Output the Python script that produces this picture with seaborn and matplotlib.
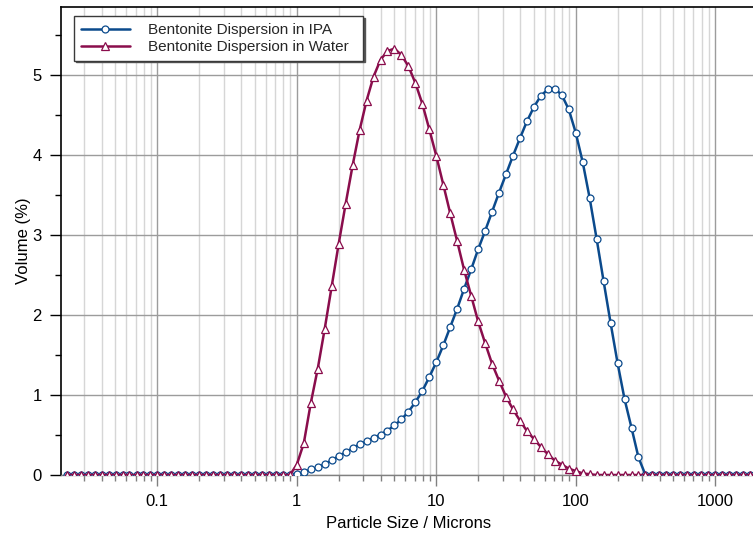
import numpy as np
import pandas as pd
import matplotlib
matplotlib.use("Agg")
import matplotlib.pyplot as plt
import matplotlib.ticker as mticker
import seaborn as sns

# Particle size classes (microns), standard laser-diffraction grid
sizes = [
    0.0224, 0.0252, 0.0283, 0.0317, 0.0356, 0.0399, 0.0448, 0.0502, 0.0564, 0.0632,
    0.0710, 0.0796, 0.0893, 0.1002, 0.1125, 0.1262, 0.1416, 0.1589, 0.1783, 0.2000,
    0.2244, 0.2518, 0.2825, 0.3170, 0.3557, 0.3991, 0.4477, 0.5024, 0.5637, 0.6325,
    0.7096, 0.7962, 0.8934, 1.002, 1.125, 1.262, 1.416, 1.589, 1.783, 2.000,
    2.244, 2.518, 2.825, 3.170, 3.557, 3.991, 4.477, 5.024, 5.637, 6.325,
    7.096, 7.962, 8.934, 10.02, 11.25, 12.62, 14.16, 15.89, 17.83, 20.00,
    22.44, 25.18, 28.25, 31.70, 35.57, 39.91, 44.77, 50.24, 56.37, 63.25,
    70.96, 79.62, 89.34, 100.2, 112.5, 126.2, 141.6, 158.9, 178.3, 200.0,
    224.4, 251.8, 282.5, 317.0, 355.7, 399.1, 447.7, 502.4, 563.7, 632.5,
    709.6, 796.2, 893.4, 1002.0, 1125.0, 1262.0, 1416.0, 1589.0, 1783.0, 2000.0,
]

volume_ipa = [
    0, 0, 0, 0, 0, 0, 0, 0, 0, 0,
    0, 0, 0, 0, 0, 0, 0, 0, 0, 0,
    0, 0, 0, 0, 0, 0, 0, 0, 0, 0,
    0, 0, 0, 0.01, 0.035, 0.07, 0.095, 0.135, 0.185, 0.235,
    0.285, 0.335, 0.385, 0.42, 0.465, 0.505, 0.555, 0.62, 0.695, 0.79,
    0.91, 1.05, 1.225, 1.41, 1.62, 1.85, 2.08, 2.33, 2.57, 2.82,
    3.05, 3.29, 3.53, 3.76, 3.99, 4.21, 4.42, 4.60, 4.74, 4.82,
    4.83, 4.75, 4.57, 4.28, 3.91, 3.46, 2.95, 2.42, 1.90, 1.40,
    0.95, 0.59, 0.22, 0, 0, 0, 0, 0, 0, 0,
    0, 0, 0, 0, 0, 0, 0, 0, 0, 0,
]

volume_water = [
    0, 0, 0, 0, 0, 0, 0, 0, 0, 0,
    0, 0, 0, 0, 0, 0, 0, 0, 0, 0,
    0, 0, 0, 0, 0, 0, 0, 0, 0, 0,
    0, 0, 0, 0.13, 0.40, 0.90, 1.33, 1.83, 2.36, 2.89,
    3.39, 3.87, 4.31, 4.68, 4.98, 5.19, 5.30, 5.33, 5.25, 5.11,
    4.90, 4.64, 4.32, 3.99, 3.63, 3.27, 2.92, 2.56, 2.24, 1.92,
    1.65, 1.39, 1.18, 0.98, 0.82, 0.68, 0.55, 0.45, 0.35, 0.26,
    0.18, 0.13, 0.08, 0.05, 0.02, 0.01, 0, 0, 0, 0,
    0, 0, 0, 0, 0, 0, 0, 0, 0, 0,
    0, 0, 0, 0, 0, 0, 0, 0, 0, 0,
]

series_labels = ["Bentonite Dispersion in IPA", "Bentonite Dispersion in Water"]
series_colors = ["#0b4a8c", "#8a0d4c"]
x_tick_values = [0.1, 1, 10, 100, 1000]
y_tick_values = [0, 1, 2, 3, 4, 5]

sns.set_theme(style="white")
plt.rcParams["font.family"] = ["Liberation Sans", "DejaVu Sans"]

W, H = 753, 538
fig = plt.figure(figsize=(W / 100, H / 100), dpi=100)
ax_l, ax_r, ax_t, ax_b = 61, 757, 7, 475
ax = fig.add_axes([ax_l / W, 1 - ax_b / H, (ax_r - ax_l) / W, (ax_b - ax_t) / H])

df = pd.DataFrame({"size": sizes, "ipa": volume_ipa, "water": volume_water})

sns.lineplot(data=df, x="size", y="ipa", ax=ax, color=series_colors[0],
             linewidth=1.8, marker="o", markersize=5.0, markerfacecolor="white",
             markeredgecolor=series_colors[0], markeredgewidth=0.9,
             label=series_labels[0], estimator=None, zorder=3)
sns.lineplot(data=df, x="size", y="water", ax=ax, color=series_colors[1],
             linewidth=1.8, marker="^", markersize=5.6, markerfacecolor="white",
             markeredgecolor=series_colors[1], markeredgewidth=0.9,
             label=series_labels[1], estimator=None, zorder=4)

ax.set_xscale("log")
ax.set_xlim(0.0204, 2000)
ax.set_ylim(0, 5.85)

ax.xaxis.set_major_locator(mticker.FixedLocator(x_tick_values))
ax.xaxis.set_major_formatter(mticker.FuncFormatter(lambda v, _: f"{v:g}"))
ax.xaxis.set_minor_locator(mticker.LogLocator(base=10, subs=np.arange(2, 10), numticks=20))
ax.xaxis.set_minor_formatter(mticker.NullFormatter())
ax.yaxis.set_major_locator(mticker.FixedLocator(y_tick_values))
ax.yaxis.set_minor_locator(mticker.MultipleLocator(0.5))

ax.grid(True, which="major", axis="both", color="#9c9c9c", linewidth=1.0, zorder=0)
ax.grid(True, which="minor", axis="x", color="#d6d6d6", linewidth=1.0, zorder=0)
ax.set_axisbelow(True)

ax.tick_params(axis="x", which="major", direction="out", length=8, width=1,
               color="#808080", labelsize=12, pad=6, bottom=True, labelcolor="black")
ax.tick_params(axis="x", which="minor", direction="out", length=4, width=1,
               color="#808080", bottom=True)
ax.tick_params(axis="y", which="major", direction="out", length=8, width=1,
               color="black", labelsize=12, pad=6, left=True, labelcolor="black")
ax.tick_params(axis="y", which="minor", direction="out", length=4, width=1,
               color="black", left=True)

for side in ["left", "top"]:
    ax.spines[side].set_color("black")
    ax.spines[side].set_linewidth(1.2)
ax.spines["bottom"].set_color("#808080")
ax.spines["bottom"].set_linewidth(1.0)
ax.spines["right"].set_visible(False)

ax.set_xlabel("Particle Size / Microns", fontsize=12, labelpad=5, color="black")
ax.set_ylabel("Volume (%)", fontsize=12, labelpad=1, color="black")

# legend box in reference: x 74..363, y 16..60 (pixels)
aw, ah = ax_r - ax_l, ax_b - ax_t
lx0 = (74 - ax_l) / aw
ly1 = 1 - (16 - ax_t) / ah
lw = (363 - 74) / aw
lh = (60 - 16) / ah
handles, labels = ax.get_legend_handles_labels()
leg = ax.legend(handles, labels, loc="upper left", mode="expand",
                bbox_to_anchor=(lx0, ly1 - lh, lw, lh),
                borderaxespad=0, fontsize=11, handlelength=3.2, handletextpad=1.2,
                labelspacing=0.2, borderpad=0.45, frameon=True, fancybox=False,
                framealpha=1, edgecolor="#3a3a3a",
                shadow={"ox": 1.2, "oy": -1.2, "color": "#555555", "alpha": 1.0})
leg.get_frame().set_linewidth(1.0)

fig.savefig("out.png", dpi=100)
